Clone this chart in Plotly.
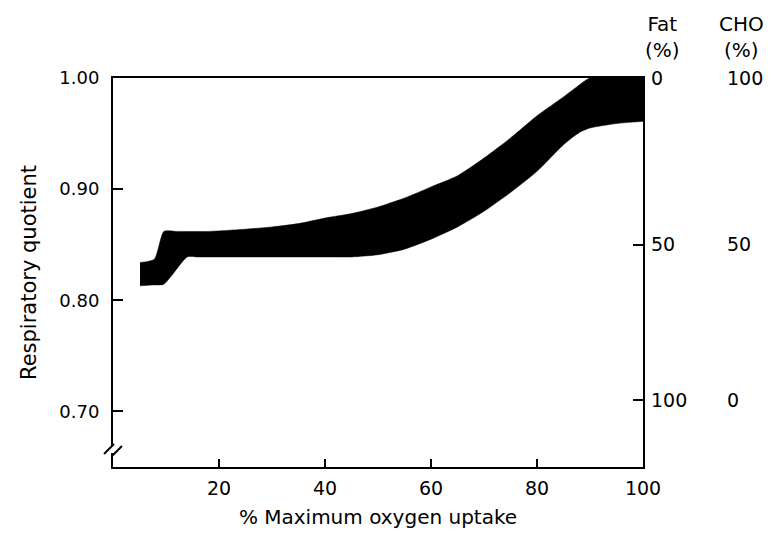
import plotly.graph_objects as go

# ---- data ----
# upper edge of the RQ band
upper_x = [5.1, 7.8, 9.6, 12, 18, 25, 30, 35, 40, 45, 50, 55, 60, 65, 70, 75, 80, 85, 87.5, 90, 95, 100]
upper_y = [0.834, 0.837, 0.862, 0.862, 0.862, 0.864, 0.866, 0.869, 0.874, 0.878, 0.884, 0.892,
           0.902, 0.912, 0.928, 0.946, 0.966, 0.983, 0.992, 1.0, 1.0, 1.0]
# lower edge of the RQ band
lower_x = [5.1, 7.5, 9.6, 14.0, 16, 20, 30, 40, 45, 50, 55, 60, 65, 70, 75, 80, 85, 88, 90, 95, 100]
lower_y = [0.813, 0.8138, 0.8145, 0.839, 0.839, 0.839, 0.839, 0.839, 0.839, 0.841, 0.846, 0.855,
           0.866, 0.880, 0.897, 0.916, 0.940, 0.951, 0.955, 0.959, 0.961]

x_ticks = [20, 40, 60, 80, 100]
rq_ticks = [0.70, 0.80, 0.90, 1.00]
pct_tick_rq = [1.00, 0.85, 0.71]
fat_labels = ["0", "50", "100"]
cho_labels = ["100", "50", "0"]

x_range = [0, 100]
y_range = [0.65, 1.0]

FONT = "DejaVu Sans"

fig = go.Figure()
fig.add_trace(go.Scatter(x=lower_x, y=lower_y, mode="lines",
                         line=dict(color="black", width=0.5, shape="spline", smoothing=0.6),
                         hoverinfo="skip", showlegend=False))
fig.add_trace(go.Scatter(x=upper_x, y=upper_y, mode="lines", fill="tonexty",
                         fillcolor="black",
                         line=dict(color="black", width=0.5, shape="spline", smoothing=0.6),
                         hoverinfo="skip", showlegend=False))
# helper traces so the extra right-hand axes are drawn
fig.add_trace(go.Scatter(x=[None], y=[None], yaxis="y2", showlegend=False))
fig.add_trace(go.Scatter(x=[None], y=[None], yaxis="y3", showlegend=False))

L, R, T, B = 113, 127, 78, 66
W, H = 770, 533
pw, ph = W - L - R, H - T - B

fig.update_layout(
    width=W, height=H,
    margin=dict(l=L, r=R, t=T, b=B, pad=0, autoexpand=False),
    paper_bgcolor="white", plot_bgcolor="white",
    font=dict(family=FONT, color="black", size=18),
    xaxis=dict(range=x_range, tickvals=x_ticks, ticks="inside", ticklen=8, tickwidth=2,
               tickcolor="black", showline=True, linewidth=2, linecolor="black", mirror=True,
               showgrid=False, zeroline=False, tickfont=dict(size=19), ticklabelstandoff=3,
               automargin=False,
               title=dict(text="% Maximum oxygen uptake", font=dict(size=20), standoff=12)),
    yaxis=dict(range=y_range, tickvals=rq_ticks, tickformat=".2f", ticks="inside", ticklen=10,
               tickwidth=2, tickcolor="black", showline=True, linewidth=2, linecolor="black",
               mirror=True, showgrid=False, zeroline=False, tickfont=dict(size=18),
               ticklabelstandoff=8, automargin=False,
               title=dict(text="Respiratory quotient", font=dict(size=21), standoff=17)),
    yaxis2=dict(overlaying="y", side="right", anchor="x", range=y_range,
                tickvals=pct_tick_rq, ticktext=fat_labels, ticks="inside", ticklen=10,
                tickwidth=2, tickcolor="black", showline=False, showgrid=False,
                zeroline=False, tickfont=dict(size=19), ticklabelstandoff=7,
                automargin=False),
    yaxis3=dict(overlaying="y", side="right", anchor="x", range=y_range,
                tickvals=pct_tick_rq, ticktext=cho_labels, ticks="", showline=False,
                showgrid=False, zeroline=False, tickfont=dict(size=19),
                ticklabelstandoff=83, automargin=False),
)

# column headers
def px_to_paper_x(px):
    return (px - L) / pw

def px_to_paper_y(py):
    return (H - B - py) / ph

fig.add_annotation(x=px_to_paper_x(662), y=px_to_paper_y(37), xref="paper", yref="paper",
                   text="Fat<br>(%)", showarrow=False, xanchor="center", yanchor="middle",
                   font=dict(size=20, family=FONT))
fig.add_annotation(x=px_to_paper_x(741), y=px_to_paper_y(37), xref="paper", yref="paper",
                   text="CHO<br>(%)", showarrow=False, xanchor="center", yanchor="middle",
                   font=dict(size=20, family=FONT))

# axis break marks on the left axis (paper-referenced so they are not clipped)
brk = dict(xref="paper", yref="paper", xsizemode="pixel", ysizemode="pixel",
           xanchor=0, yanchor=0, layer="above")
fig.add_shape(type="rect", x0=-3, x1=3, y0=14, y1=21,
              fillcolor="white", line=dict(width=0), **brk)
fig.add_shape(type="line", x0=-9, y0=13, x1=1, y1=23,
              line=dict(color="black", width=2), **brk)
fig.add_shape(type="line", x0=-1, y0=11, x1=9, y1=21,
              line=dict(color="black", width=2), **brk)

fig.write_html("out.html")
